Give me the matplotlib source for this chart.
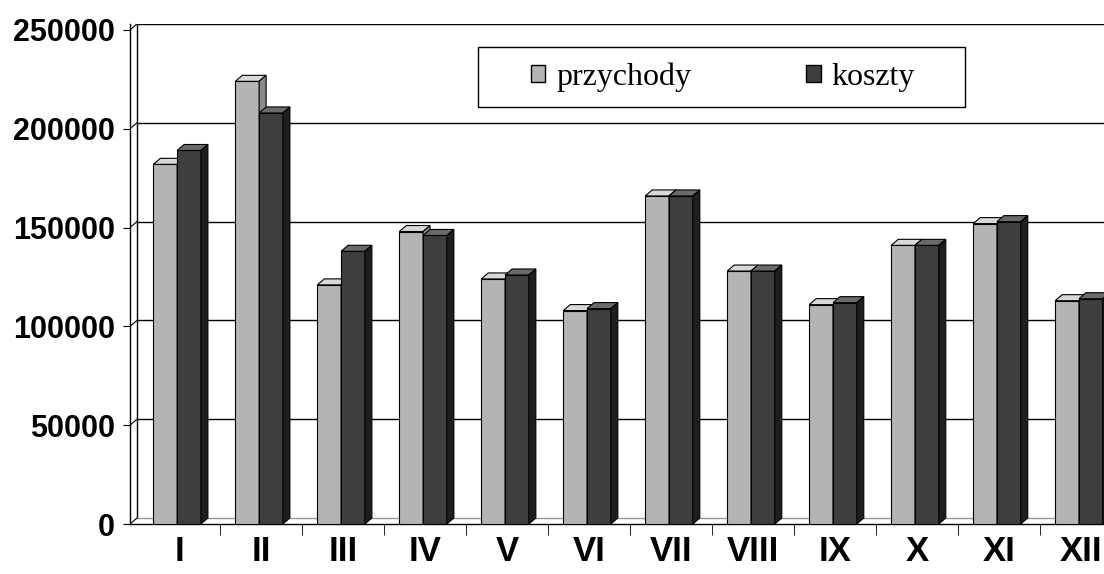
import matplotlib.pyplot as plt
import numpy as np
from matplotlib.patches import Patch, Polygon, Rectangle

plt.rcParams['font.family'] = ['Liberation Sans', 'DejaVu Sans']

months = ['I', 'II', 'III', 'IV', 'V', 'VI', 'VII', 'VIII', 'IX', 'X', 'XI', 'XII']
przychody = [182000, 224000, 121000, 148000, 124000, 108000, 166000, 128000, 111000, 141000, 152000, 113000]
koszty = [189000, 208000, 138000, 146000, 126000, 109000, 166000, 128000, 112000, 141000, 153000, 114000]
y_ticks = [0, 50000, 100000, 150000, 200000, 250000]

fig = plt.figure(figsize=(11.04, 5.74), dpi=100)
ax = fig.add_axes([130 / 1104, 50 / 574, 992 / 1104, 500 / 574])

x = np.arange(len(months))
w = 0.29
x_lo, x_hi = -0.6, 11.5
y_hi = 253000
ax.set_xlim(x_lo, x_hi)
ax.set_ylim(0, y_hi)

# depth of the fake 3d look, in data units (~7 px right, ~6 px up)
dx = 7 * (x_hi - x_lo) / 992
dy = 6 * y_hi / 500


def bars_3d(xs, vals, front, top, side, z):
    bars = ax.bar(xs, vals, w, color=front, edgecolor='black', linewidth=0.8, zorder=z)
    for b in bars:
        x0 = b.get_x()
        x1 = x0 + b.get_width()
        h = b.get_height()
        ax.add_patch(Polygon([(x0, h), (x1, h), (x1 + dx, h + dy), (x0 + dx, h + dy)],
                             facecolor=top, edgecolor='black', linewidth=0.8, zorder=z))
        ax.add_patch(Polygon([(x1, 0), (x1, h), (x1 + dx, h + dy), (x1 + dx, dy)],
                             facecolor=side, edgecolor='black', linewidth=0.8, zorder=z))


# back wall and gridlines
ax.plot([x_lo + dx, x_lo + dx], [dy, y_ticks[-1] + dy], color='black', lw=1, zorder=1)
for v in y_ticks:
    col = '#999999' if v == 0 else 'black'
    ax.plot([x_lo + dx, x_hi], [v + dy, v + dy], color=col, lw=1, zorder=1)
    ax.plot([x_lo, x_lo + dx], [v, v + dy], color='black', lw=0.8, zorder=1)

bars_3d(x - 0.17, przychody, '#b4b4b4', '#d8d8d8', '#8a8a8a', 3)
bars_3d(x + 0.12, koszty, '#3e3e3e', '#6a6a6a', '#1e1e1e', 4)

for s in ['top', 'right']:
    ax.spines[s].set_visible(False)
ax.spines['left'].set_linewidth(1)
ax.spines['bottom'].set_linewidth(1)

ax.set_yticks(y_ticks)
ax.set_yticklabels([str(v) for v in y_ticks])
ax.tick_params(axis='y', direction='out', length=5, pad=6, labelsize=22)
ax.set_xticks(x)
ax.set_xticklabels(months)
ax.set_xticks(x + 0.5, minor=True)
ax.tick_params(axis='x', which='major', length=0, pad=8, labelsize=25)
ax.tick_params(axis='x', which='minor', direction='out', length=8)
for t in ax.get_xticklabels() + ax.get_yticklabels():
    t.set_fontweight('bold')

# legend box drawn separately so the entries can sit closer together
fig.add_artist(Rectangle((478 / 1104, 467 / 574), 487 / 1104, 60 / 574, transform=fig.transFigure,
                         facecolor='white', edgecolor='black', linewidth=1, zorder=5))
handles = [Patch(facecolor='#b4b4b4', edgecolor='black', label='przychody'),
           Patch(facecolor='#3e3e3e', edgecolor='black', label='koszty')]
leg = fig.legend(handles=handles, loc='center', ncol=2, frameon=False,
                 bbox_to_anchor=(723 / 1104, 497 / 574),
                 prop={'family': 'Liberation Serif', 'size': 23},
                 handlelength=0.45, handleheight=0.45, handletextpad=0.35,
                 columnspacing=3.6, borderpad=0, borderaxespad=0)
leg.set_zorder(6)

plt.savefig('out.png', dpi=100)
